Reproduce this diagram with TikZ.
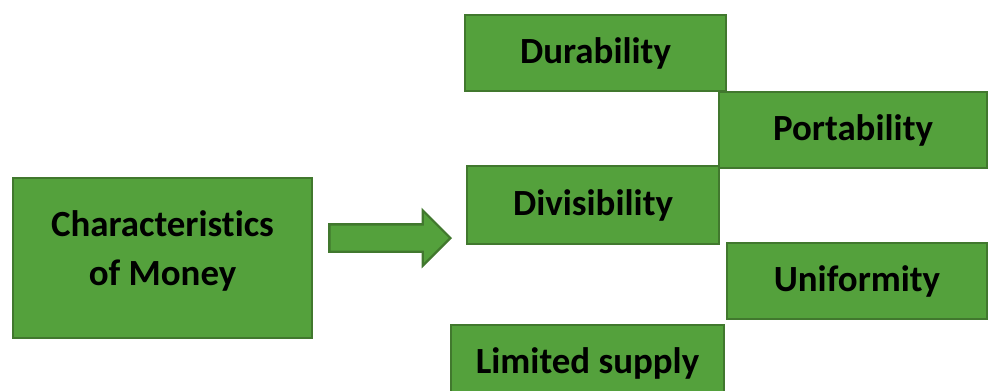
\documentclass[tikz,border=0pt]{standalone}
\usepackage{fontspec}
\setmainfont[Ligatures=NoCommon]{Carlito}
\usetikzlibrary{shapes.arrows}
\definecolor{boxgreen}{HTML}{54A13C}
\definecolor{boxedge}{HTML}{41782E}

\begin{document}
\begin{tikzpicture}[x=0.02cm,y=-0.02cm,
  item/.style={draw=boxedge,line width=1.1pt,fill=boxgreen,inner sep=0pt,
    font=\bfseries\fontsize{21}{28}\selectfont,align=center}]
  \def\px{0.02cm} % one pixel of the layout grid
  \useasboundingbox (0,0) rectangle (988,390);
  \node[item,minimum width=299*\px,minimum height=160*\px,text depth=20*\px] (money) at (162.5,258) {Characteristics\\of Money};
  \node[single arrow,draw=boxedge,line width=1.3pt,fill=boxgreen,inner sep=12.5*\px,
    minimum height=121*\px,single arrow head extend=14*\px,anchor=tip] (arrow) at (452,238) {};
  % the five characteristics, staggered in two columns
  \node[item,minimum width=261*\px,minimum height=76*\px] (dur) at (595.5,53) {Durability};
  \node[item,minimum width=268*\px,minimum height=76*\px] (port) at (853,130) {Portability};
  \node[item,minimum width=252*\px,minimum height=78*\px] (div) at (593,205) {Divisibility};
  \node[item,minimum width=260*\px,minimum height=76*\px] (unif) at (857,281) {Uniformity};
  \node[item,minimum width=273*\px,minimum height=76*\px] (lim) at (587.5,363) {Limited supply}; % runs off the bottom edge
\end{tikzpicture}
\end{document}
